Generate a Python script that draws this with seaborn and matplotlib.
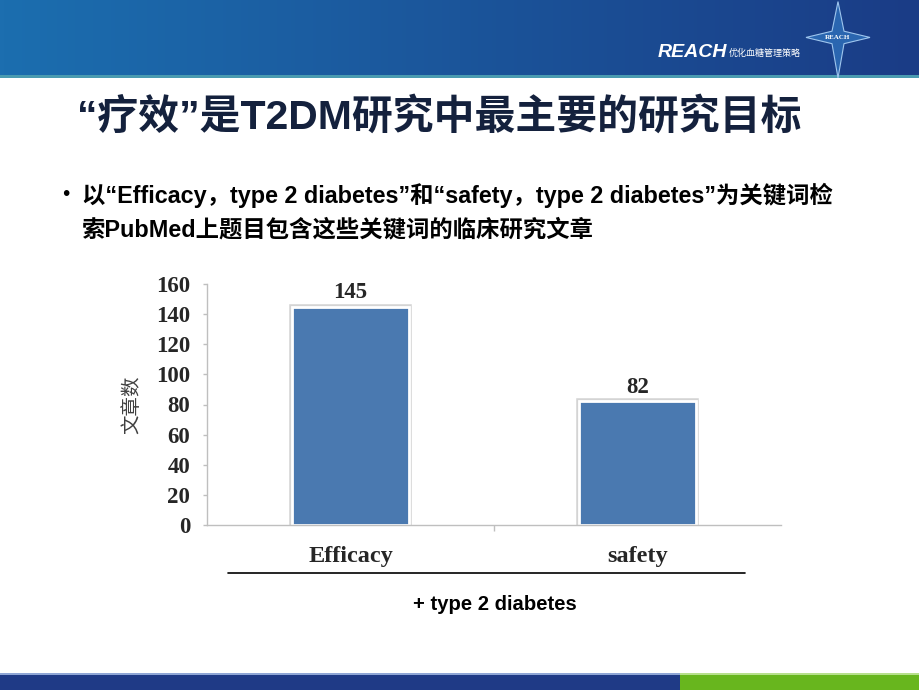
import numpy as np
import pandas as pd
import matplotlib
matplotlib.use("Agg")
import matplotlib.pyplot as plt
import matplotlib.patheffects as pe
from matplotlib.patches import Rectangle, Polygon
import seaborn as sns

categories = ["Efficacy", "safety"]
counts = [145, 82]
yticks = [0, 20, 40, 60, 80, 100, 120, 140, 160]
title_text = "“疗效”是T2DM研究中最主要的研究目标"
bullet_line1 = "以“Efficacy，type 2 diabetes”和“safety，type 2 diabetes”为关键词检"
bullet_line2 = "索PubMed上题目包含这些关键词的临床研究文章"
ylabel_text = "文章数"
group_label = "+ type 2 diabetes"

sns.set_theme(style="white")
plt.rcParams['font.family'] = ['Liberation Sans', 'Noto Sans CJK SC', 'DejaVu Sans']

W, H = 920, 690
fig = plt.figure(figsize=(W / 100, H / 100), dpi=100)
fig.patch.set_facecolor("white")

# ---- header band (gradient) ----
hdr = fig.add_axes([0, 1 - 78 / H, 1, 78 / H])
grad = np.linspace(0, 1, 256)
c0 = np.array([0x1c, 0x6e, 0xaf]) / 255
c1 = np.array([0x1a, 0x3c, 0x86]) / 255
img = (c0[None, :] * (1 - grad[:, None]) + c1[None, :] * grad[:, None])[None, :, :]
img = np.repeat(img, 10, axis=0)
hdr.imshow(img, aspect="auto", extent=[0, 1, 0, 1])
hdr.add_patch(Rectangle((0, 0), 1, 0.04, color="#4a9bb0", lw=0))
hdr.set_xlim(0, 1); hdr.set_ylim(0, 1); hdr.axis("off")
# logo
hdr.text(658 / W, 0.33, "REACH", color="white", fontsize=14, fontweight="bold",
         fontstyle="italic", ha="left", va="center", family=["Liberation Sans"])
hdr.text(729 / W, 0.31, "优化血糖管理策略", color="white", fontsize=6.5,
         ha="left", va="center", family=["Noto Sans CJK SC"])
cx, cy = 838 / W, 0.52
star = Polygon([(cx, 0.98), (cx + 6 / W, 0.6), (cx + 32 / W, cy), (cx + 6 / W, 0.44),
                (cx, 0.0), (cx - 6 / W, 0.44), (cx - 32 / W, cy), (cx - 6 / W, 0.6)],
               closed=True, facecolor="#2a66b0", edgecolor="#9fc6ee", lw=0.8)
hdr.add_patch(star)
hdr.text(cx, cy, "REACH", color="white", fontsize=5, fontweight="bold",
         ha="center", va="center", family=["Liberation Serif"])

# ---- footer band ----
ftr = fig.add_axes([0, 0, 1, 17 / H])
ftr.add_patch(Rectangle((0, 0), 680 / W, 1, color="#1f3a86", lw=0))
ftr.add_patch(Rectangle((680 / W, 0), 1 - 680 / W, 1, color="#68b61e", lw=0))
ftr.add_patch(Rectangle((0, 0.9), 680 / W, 0.1, color="#8fa6d6", lw=0))
ftr.add_patch(Rectangle((680 / W, 0.9), 1 - 680 / W, 0.1, color="#b7e08c", lw=0))
ftr.set_xlim(0, 1); ftr.set_ylim(0, 1); ftr.axis("off")

# ---- title & bullet ----
fig.text(77 / W, 1 - 117 / H, title_text, fontsize=29.4, fontweight="bold",
         color="#14213d", ha="left", va="center")
fig.text(62 / W, 1 - 195 / H, "•", fontsize=15, color="black", ha="left", va="center")
fig.text(82 / W, 1 - 195 / H, bullet_line1, fontsize=16.8, fontweight="bold",
         color="black", ha="left", va="center")
fig.text(82 / W, 1 - 230 / H, bullet_line2, fontsize=16.8, fontweight="bold",
         color="black", ha="left", va="center")

# ---- bar chart ----
ax = fig.add_axes([207 / W, 1 - 525 / H, 574 / W, 241 / H])
df = pd.DataFrame({"category": categories, "count": counts})
sns.barplot(data=df, x="category", y="count", ax=ax, color="#4a79b0",
            width=0.41, edgecolor="white", linewidth=2, saturation=1)
for p in ax.patches:
    p.set_path_effects([pe.Stroke(linewidth=4.0, foreground="#d4d4d4"), pe.Normal()])
ax.set_xlim(-0.5, 1.5)
ax.set_ylim(0, 160)
ax.set_yticks(yticks)
serif = ["Liberation Serif", "DejaVu Serif"]
ax.set_yticklabels([str(v) for v in yticks], fontsize=16.5, fontweight="bold", family=serif)
ax.set_xticks([0, 1])
ax.set_xticklabels(categories, fontsize=17.5, fontweight="bold", family=serif)
ax.set_xticks([0.5], minor=True)
ax.tick_params(axis="x", which="major", length=0, pad=15)
ax.tick_params(axis="x", which="minor", length=4, color="#bfbfbf", width=1, direction="out", bottom=True)
ax.tick_params(axis="y", which="major", length=3, color="#bfbfbf", width=1, direction="out", left=True, pad=9)
for s in ["top", "right"]:
    ax.spines[s].set_visible(False)
for s in ["left", "bottom"]:
    ax.spines[s].set_color("#bfbfbf")
    ax.spines[s].set_linewidth(1)
ax.set_xlabel("")
ax.set_ylabel(ylabel_text, fontsize=14, color="#404040", family=["Noto Sans CJK SC"], labelpad=10)
for i, v in enumerate(counts):
    ax.text(i, v + 2.5, str(v), ha="center", va="bottom", fontsize=16.5, fontweight="bold", family=serif)
ax.grid(False)

# group line and label
fig.add_artist(plt.Line2D([228 / W, 745 / W], [1 - 573 / H, 1 - 573 / H], color="black", lw=1.2))
fig.text(495 / W, 1 - 605 / H, group_label, fontsize=14.6, fontweight="bold",
         ha="center", va="center", color="black")

fig.savefig("out.png", dpi=100)
